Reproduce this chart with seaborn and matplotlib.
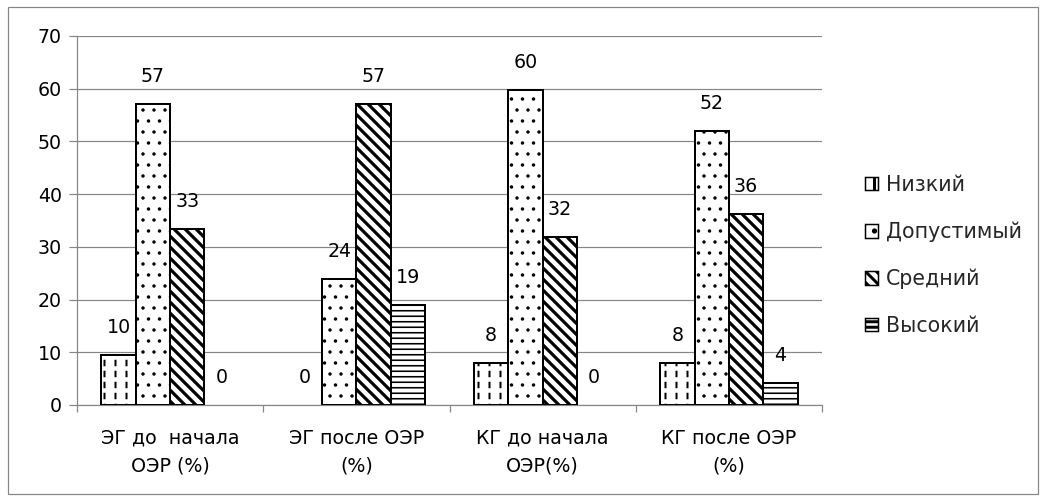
import matplotlib
matplotlib.use("Agg")
import matplotlib.pyplot as plt
import pandas as pd
import seaborn as sns
from matplotlib.patches import Rectangle

# values (percent)
groups = ["ЭГ до  начала\nОЭР (%)", "ЭГ после ОЭР\n(%)", "КГ до начала\nОЭР(%)", "КГ после ОЭР\n(%)"]
levels = ["Низкий", "Допустимый", "Средний", "Высокий"]
low = [9.5, 0, 8.0, 8.0]
acceptable = [57.1, 23.9, 59.8, 51.9]
medium = [33.4, 57.1, 31.9, 36.2]
high = [0, 19.0, 0, 4.2]
y_ticks = [0, 10, 20, 30, 40, 50, 60, 70]

DPI = 66
PT = 72 / DPI  # points per pixel
W, H = 1046, 501
GRAY = "#868686"
FS = 19 * PT


def main():
    df = pd.DataFrame(
        {
            "group": groups * 4,
            "level": sum([[lv] * 4 for lv in levels], []),
            "value": low + acceptable + medium + high,
        }
    )

    sns.set_style("white")
    plt.rcParams["font.family"] = ["DejaVu Sans"]
    plt.rcParams["hatch.linewidth"] = 3.0 * PT

    fig = plt.figure(figsize=(W / DPI, H / DPI), dpi=DPI)
    ax = fig.add_axes([77 / W, (H - 405) / H, (822 - 77) / W, 369 / H])

    sns.barplot(
        data=df, x="group", y="value", hue="level",
        order=groups, hue_order=levels,
        palette=["white"] * 4, saturation=1,
        width=0.737, edgecolor="black", linewidth=2 * PT,
        legend=False, ax=ax, zorder=3,
    )

    hatch_styles = ["|", ".", "\\\\", "--"]
    hatch_widths = [2.0, 1.2, 3.2, 1.6]
    handles = []
    for cont, lv, hs, hw in zip(ax.containers, levels, hatch_styles, hatch_widths):
        for bar in cont:
            bar.set_hatch(hs)
            bar.set_edgecolor("black")
            if hasattr(bar, "set_hatch_linewidth"):
                bar.set_hatch_linewidth(hw * PT)
            if bar.get_height() == 0:
                bar.set_linewidth(0)
        ax.bar_label(cont, fmt="%.0f", padding=18 * PT, fontsize=FS, color="black")
        h = Rectangle((0, 0), 1, 1, facecolor="white", edgecolor="black",
                      linewidth=1.5 * PT, hatch=hs, label=lv)
        handles.append(h)

    # break vertical lines of "Низкий" into dashes
    for bar in ax.containers[0]:
        if bar.get_height() == 0:
            continue
        cover = Rectangle(bar.get_xy(), bar.get_width(), bar.get_height(),
                          facecolor="none", edgecolor="white", linewidth=0,
                          hatch="-", zorder=3.5)
        if hasattr(cover, "set_hatch_linewidth"):
            cover.set_hatch_linewidth(4.5 * PT)
        ax.add_patch(cover)
        edge = Rectangle(bar.get_xy(), bar.get_width(), bar.get_height(),
                         facecolor="none", edgecolor="black",
                         linewidth=2 * PT, zorder=3.6)
        ax.add_patch(edge)

    ax.set_ylim(0, 70)
    ax.set_xlim(-0.5, len(groups) - 0.5)
    ax.set_yticks(y_ticks)
    ax.yaxis.grid(True, color=GRAY, linewidth=1.2 * PT, zorder=0)
    ax.set_axisbelow(True)
    ax.set_xlabel("")
    ax.set_ylabel("")

    for side in ["top", "right"]:
        ax.spines[side].set_visible(False)
    for side in ["left", "bottom"]:
        ax.spines[side].set_color(GRAY)
        ax.spines[side].set_linewidth(1.2 * PT)

    ax.tick_params(axis="y", length=8 * PT, width=1.2 * PT, color=GRAY,
                   pad=7 * PT, labelsize=FS, labelcolor="black", left=True)
    ax.tick_params(axis="x", which="major", length=0, pad=24 * PT,
                   labelsize=FS, labelcolor="black")
    ax.set_xticks([i - 0.5 for i in range(len(groups) + 1)], minor=True)
    ax.tick_params(axis="x", which="minor", length=7 * PT, width=1.2 * PT,
                   color=GRAY, bottom=True)
    for lab in ax.get_xticklabels():
        lab.set_linespacing(1.6)

    fig.legend(
        handles=handles, loc="upper left",
        bbox_to_anchor=(865 / W, 1 - 175 / H),
        frameon=False, fontsize=20.5 * PT, borderpad=0, borderaxespad=0,
        handlelength=0.62, handleheight=0.62, handletextpad=0.4,
        labelspacing=1.3,
    )

    border = Rectangle((8 / W, 1 - 494 / H), (1038 - 8) / W, (494 - 7) / H,
                       transform=fig.transFigure, facecolor="none",
                       edgecolor=GRAY, linewidth=1.2 * PT)
    fig.patches.append(border)

    fig.savefig("out.png", dpi=DPI)
    plt.close(fig)


if __name__ == "__main__":
    main()
